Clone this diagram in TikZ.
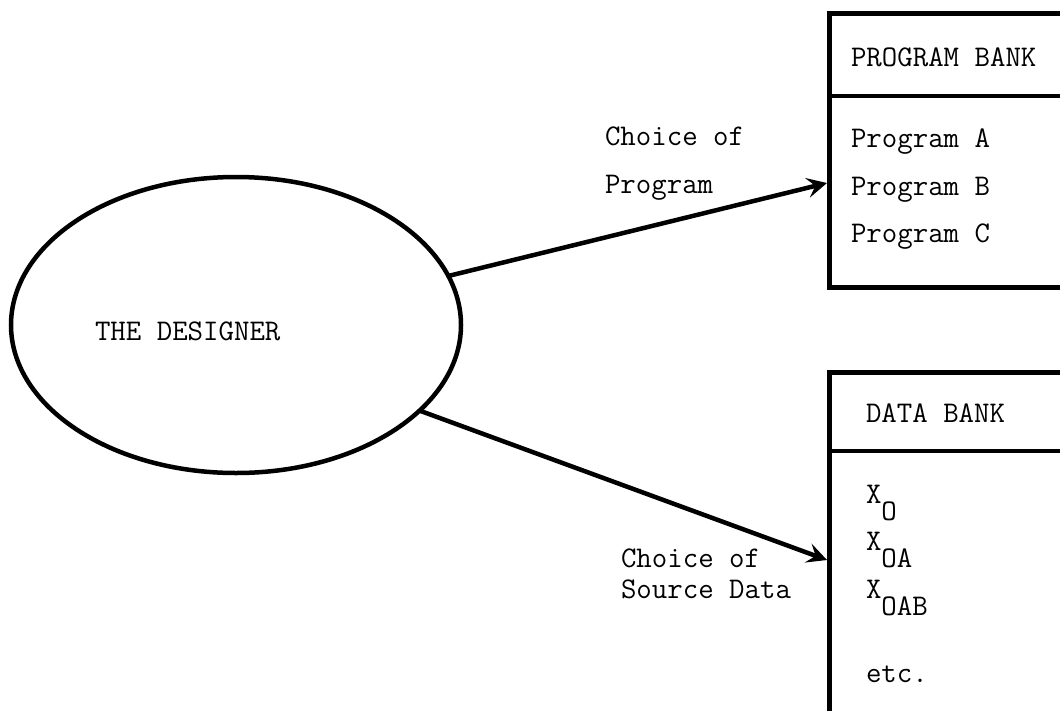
\documentclass[tikz,border=0pt]{standalone}
\usepackage{fontspec}
\usetikzlibrary{shapes.geometric,arrows.meta}
\begin{document}
\begin{tikzpicture}[x=1pt,y=-1pt,
  every node/.style={inner sep=0pt, outer sep=0pt,
    font=\fontsize{30}{36}\selectfont\ttfamily\addfontfeatures{FakeBold=1.2}},
  txt/.style={anchor=base west},
  agent/.style={draw, ellipse, line width=4.5pt,
    minimum width=450pt, minimum height=296pt},
  bank/.style={draw, rectangle, line width=5pt, anchor=north west},
  rule/.style={line width=3.5pt},
  link/.style={line width=4.5pt,
    -{Stealth[length=20pt,width=20pt,inset=8pt]}}]

% page frame
\useasboundingbox (0,0) rectangle (1060,710);
\fill[white] (0,0) rectangle (1060,710);
\clip (0,0) rectangle (1060,710);

% the designer
\node[agent] (designer) at (236,325) {};
\node[txt] (designerlabel) at (95,340) {THE DESIGNER};

% program bank
\node[bank, minimum width=260pt, minimum height=274pt] (prog) at (829,13) {};
\draw[rule] ([yshift=-83pt]prog.north west) -- ([yshift=-83pt]prog.north east);
\node[txt] (progtitle) at (851,66) {PROGRAM BANK};
\node[txt] (proga) at (851,147) {Program A};
\node[txt] (progb) at (851,195) {Program B};
\node[txt] (progc) at (851,242) {Program C};

% data bank
\node[bank, minimum width=260pt, minimum height=400pt] (data) at (829,372) {};
\draw[rule] ([yshift=-79pt]data.north west) -- ([yshift=-79pt]data.north east);
\node[txt] (datatitle) at (866,422) {DATA BANK};
\node[txt] (xo) at (866,503) {X\raisebox{-17pt}{O}};
\node[txt] (xoa) at (866,550) {X\raisebox{-17pt}{OA}};
\node[txt] (xoab) at (866,598) {X\raisebox{-17pt}{OAB}};
\node[txt] (etc) at (866,682) {etc.};

% choices
\coordinate (progin) at (827,183);
\coordinate (datain) at (827,560);
\draw[link] (designer.13) -- (progin);
\draw[link] (designer.-25) -- (datain);

\node[txt] (progchoice1) at (605,145) {Choice of};
\node[txt] (progchoice2) at (605,193) {Program};
\node[txt] (datachoice1) at (621,567) {Choice of};
\node[txt] (datachoice2) at (621,598) {Source Data};
\end{tikzpicture}
\end{document}
